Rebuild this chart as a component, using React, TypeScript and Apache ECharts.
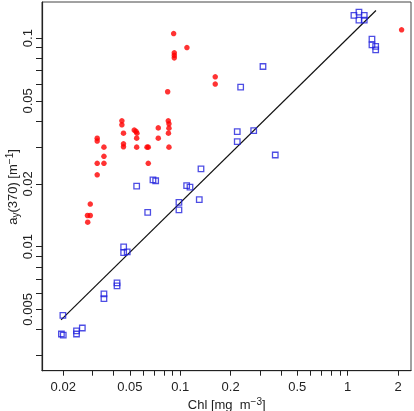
import React, { useEffect, useRef } from "react";
import * as echarts from "echarts";

// Red points (filled): Chl [mg m^-3] and a_y(370) [m^-1]
const redChl = [0.0913, 0.1096, 0.0921, 0.0921, 0.0921, 0.1618, 0.1618, 0.0841, 0.0448, 0.0448, 0.0458, 0.0458, 0.0458, 0.0531, 0.0544, 0.0551, 0.0549, 0.0549, 0.0633, 0.0644, 0.0644, 0.0739, 0.0739, 0.0848, 0.0856, 0.0856, 0.085, 0.0856, 0.0319, 0.0319, 0.035, 0.035, 0.0319, 0.035, 0.0319, 0.029, 0.0279, 0.029, 0.028, 2.1];
const redAy = [0.1052, 0.0901, 0.085, 0.0827, 0.0804, 0.0652, 0.0602, 0.0553, 0.0401, 0.0384, 0.035, 0.0311, 0.0301, 0.0362, 0.0357, 0.035, 0.0331, 0.03, 0.03, 0.03, 0.0251, 0.0371, 0.0331, 0.0401, 0.0388, 0.037, 0.035, 0.03, 0.0331, 0.0321, 0.03, 0.0271, 0.0251, 0.0251, 0.0221, 0.016, 0.0141, 0.0141, 0.0131, 0.1096];

// Blue points (open squares)
const blueChl = [1.09, 1.168, 1.168, 1.256, 1.256, 1.397, 1.397, 1.47, 1.47, 0.312, 0.2295, 0.219, 0.2746, 0.219, 0.3694, 0.133, 0.0687, 0.0713, 0.0549, 0.1092, 0.1143, 0.1299, 0.0982, 0.0982, 0.0639, 0.0459, 0.0459, 0.0482, 0.0419, 0.0419, 0.035, 0.035, 0.0199, 0.0195, 0.02, 0.024, 0.024, 0.026];
const blueAy = [0.1284, 0.1333, 0.1221, 0.1284, 0.1221, 0.0989, 0.0929, 0.0912, 0.0879, 0.0731, 0.0582, 0.0356, 0.036, 0.0319, 0.0275, 0.0236, 0.0209, 0.0207, 0.0195, 0.0196, 0.0193, 0.0168, 0.0163, 0.015, 0.0146, 0.00997, 0.00936, 0.00943, 0.0067, 0.00648, 0.00593, 0.00563, 0.00468, 0.00381, 0.00376, 0.00394, 0.00381, 0.00407];

// Fitted line end points
const fitChl = [0.0194, 1.476];
const fitAy = [0.00445, 0.1356];

// Axis ranges and ticks
const xRange = [0.01493, 2.39];
const yRange = [0.00254, 0.149];
const xTickLabels = ["0.02", "0.05", "0.1", "0.2", "0.5", "1", "2"];
const xTickMarks = [0.02, 0.03, 0.04, 0.05, 0.06, 0.07, 0.08, 0.09, 0.1, 0.2, 0.3, 0.4, 0.5, 0.6, 0.7, 0.8, 0.9, 1, 2];
const yTickLabels = ["0.005", "0.01", "0.02", "0.05", "0.1"];
const yTickMarks = [0.003, 0.004, 0.005, 0.006, 0.007, 0.008, 0.009, 0.01, 0.02, 0.03, 0.04, 0.05, 0.06, 0.07, 0.08, 0.09, 0.1];

const L = Math.log10;
const FONT = "'Liberation Sans', Arial, sans-serif";
const TXT = "#222";

export default function App() {
  const ref = useRef<HTMLDivElement>(null);
  useEffect(() => {
    if (!ref.current) return;
    const chart = echarts.init(ref.current, undefined, { renderer: "svg" });
    const fmt = (v: number) => String(Number(Math.pow(10, v).toPrecision(2)));
    const rich = {
      m: { fontSize: 13, fontFamily: FONT, fill: TXT, lineHeight: 16 },
      sup: { fontSize: 10, fontFamily: FONT, fill: TXT, lineHeight: 4, verticalAlign: "top" },
      sub: { fontSize: 10, fontFamily: FONT, fill: TXT, lineHeight: 8, verticalAlign: "bottom" },
    };
    chart.setOption({
      animation: false,
      grid: { left: 42, right: 3, top: 2, bottom: 40.3, show: true, borderColor: "#444", borderWidth: 1 },
      xAxis: {
        type: "value",
        min: L(xRange[0]),
        max: L(xRange[1]),
        axisLine: { show: true, onZero: false, lineStyle: { color: TXT, width: 1.2 } },
        axisTick: { show: true, customValues: xTickMarks.map(L), length: 5, lineStyle: { color: TXT } },
        axisLabel: {
          customValues: xTickLabels.map((s) => L(parseFloat(s))),
          formatter: fmt,
          margin: 9,
          fontSize: 13,
          fontFamily: FONT,
          color: TXT,
        },
        splitLine: { show: false },
      },
      yAxis: {
        type: "value",
        min: L(yRange[0]),
        max: L(yRange[1]),
        axisLine: { show: true, onZero: false, lineStyle: { color: TXT, width: 1.2 } },
        axisTick: { show: true, customValues: yTickMarks.map(L), length: 6, lineStyle: { color: TXT } },
        axisLabel: {
          customValues: yTickLabels.map((s) => L(parseFloat(s))),
          formatter: fmt,
          rotate: 90,
          margin: 8,
          fontSize: 13,
          fontFamily: FONT,
          color: TXT,
        },
        splitLine: { show: false },
      },
      series: [
        {
          type: "line",
          data: fitChl.map((x, i) => [L(x), L(fitAy[i])]),
          symbol: "none",
          lineStyle: { color: "#111", width: 1.2 },
          z: 1,
        },
        {
          type: "scatter",
          data: blueChl.map((x, i) => [L(x), L(blueAy[i])]),
          symbol: "rect",
          symbolSize: 5.5,
          itemStyle: { color: "rgba(0,0,0,0)", borderColor: "#2020dd", borderWidth: 1.3 },
          z: 2,
        },
        {
          type: "scatter",
          data: redChl.map((x, i) => [L(x), L(redAy[i])]),
          symbol: "circle",
          symbolSize: 5.5,
          itemStyle: { color: "#ff0000" },
          z: 3,
        },
      ],
      graphic: [
        {
          type: "text",
          x: 226.7,
          y: 404.5,
          style: {
            text: "{m|Chl [mg\u00a0 m}{sup|\u22123}{m|]}",
            rich,
            align: "center",
            verticalAlign: "middle",
          },
        },
        {
          type: "text",
          x: 12,
          y: 187,
          rotation: Math.PI / 2,
          style: {
            text: "{m|a}{sub|y}{m|(370) [m}{sup|\u22121}{m|]}",
            rich,
            align: "center",
            verticalAlign: "middle",
          },
        },
      ],
    });
    return () => chart.dispose();
  }, []);
  return <div ref={ref} style={{ position: "fixed", left: 0, top: 0, width: 414, height: 411 }} />;
}
